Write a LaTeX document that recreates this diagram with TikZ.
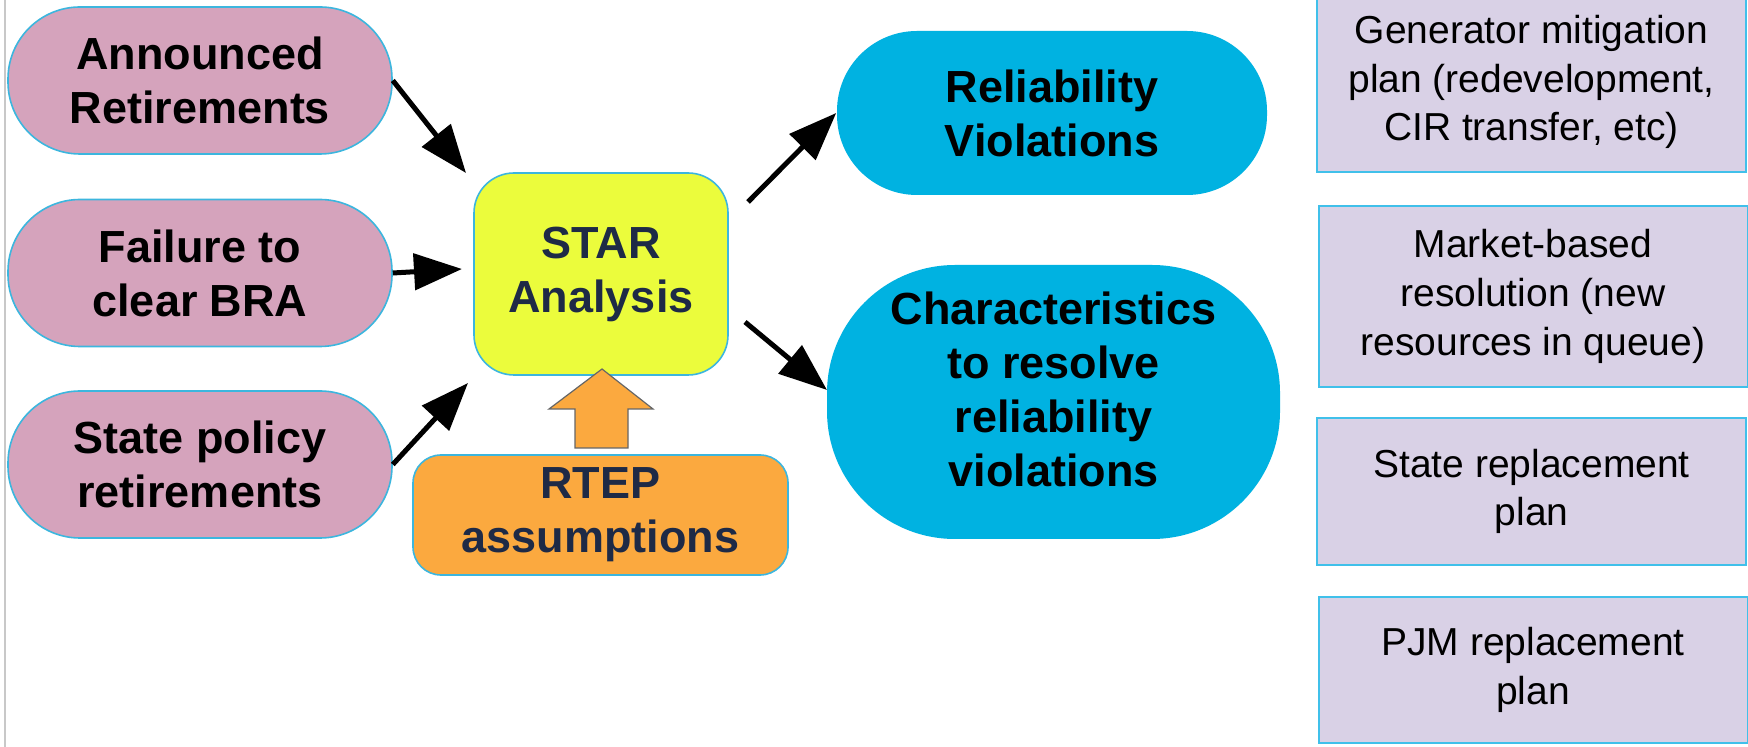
\documentclass[tikz,border=0pt]{standalone}
\usepackage{fontspec}
\setmainfont{Liberation Sans}
\usetikzlibrary{arrows.meta}
\definecolor{pinkfill}{HTML}{D5A3BC}
\definecolor{edgeblue}{HTML}{3CB6DE}
\definecolor{starfill}{HTML}{EBFC3C}
\definecolor{orangefill}{HTML}{FBA93F}
\definecolor{navytext}{HTML}{1E2A46}
\definecolor{cyanfill}{HTML}{00B2E1}
\definecolor{lavfill}{HTML}{D9D1E6}
\definecolor{lavedge}{HTML}{40C0EA}
\definecolor{frameline}{HTML}{C8C8C8}
\newcommand\fBold{\fontsize{22.5}{27}\selectfont\bfseries}
\newcommand\fReg{\fontsize{19.5}{24.3}\selectfont}
\begin{document}
\begin{tikzpicture}[x=0.5pt,y=-0.5pt,
  base/.style={inner sep=0pt, align=center, line width=0.8pt},
  pill/.style={base, draw=edgeblue, fill=pinkfill, rounded corners=36pt,
    minimum width=192pt, minimum height=73.5pt, font=\fBold},
  starbox/.style={base, draw=edgeblue, fill=starfill, rounded corners=20pt,
    minimum width=127pt, minimum height=101pt, font=\fBold, text=navytext},
  rtepbox/.style={base, draw=edgeblue, fill=orangefill, rounded corners=14pt,
    minimum width=187.5pt, minimum height=60pt, font=\fBold, text=navytext},
  outpill/.style={base, fill=cyanfill, font=\fBold},
  optbox/.style={base, draw=lavedge, fill=lavfill, font=\fReg,
    minimum width=214.5pt, line width=1pt},
  arr/.style={line width=2.5pt, -{Triangle[length=24pt,width=18pt]}},
  blockarrow/.style={draw=gray!80!black, fill=orangefill, line width=0.6pt}
]
\useasboundingbox (0,0) rectangle (1748,747);
\fill[white] (0,0) rectangle (1748,747);
\draw[frameline, line width=1pt] (5,0) -- (5,747);

% input pills
\node[pill] (ann) at (200,80.5) {Announced\\Retirements};
\node[pill] (fail) at (200,273) {Failure to\\clear BRA};
\node[pill] (state) at (200,464.5) {State policy\\retirements};

% centre
\node[starbox] (star) at (601,274) {STAR\\Analysis};
\node[rtepbox] (rtep) at (600.5,515) {RTEP\\assumptions};

% outputs
\node[outpill, rounded corners=40pt, minimum width=215pt, minimum height=82pt]
  (rel) at (1052,113) {Reliability\\Violations};
\node[outpill, rounded corners=64pt, minimum width=226.5pt, minimum height=137pt,
  text depth=13pt]
  (char) at (1053.5,402) {Characteristics\\to resolve\\reliability\\violations};

% options
\node[optbox, minimum height=90pt] (gen) at (1531.5,82) {Generator mitigation\\plan (redevelopment,\\CIR transfer, etc)};
\node[optbox, minimum height=90.5pt] (mkt) at (1533,296.5) {Market-based\\resolution (new\\resources in queue)};
\node[optbox, minimum height=73.5pt] (srp) at (1531.5,491.5) {State replacement\\plan};
\node[optbox, minimum height=73pt] (pjm) at (1533,670) {PJM replacement\\plan};

% arrow ends
\coordinate (t1) at (466,173);
\coordinate (t2) at (462,269);
\coordinate (t3) at (468,383);
\coordinate (s4) at (748,202);
\coordinate (s5) at (745,322);
\coordinate (t5) at (827,390);

\draw[arr] (ann.east) -- (t1);
\draw[arr] (fail.east) -- (t2);
\draw[arr] (state.east) -- (t3);
\draw[arr] (s4) -- (rel.west);
\draw[arr] (s5) -- (t5);

% block arrow RTEP -> STAR
\draw[blockarrow] (575,448) -- (575,409) -- (549,409) -- (602,369)
  -- (653,409) -- (628,409) -- (628,448) -- cycle;
\end{tikzpicture}
\end{document}
